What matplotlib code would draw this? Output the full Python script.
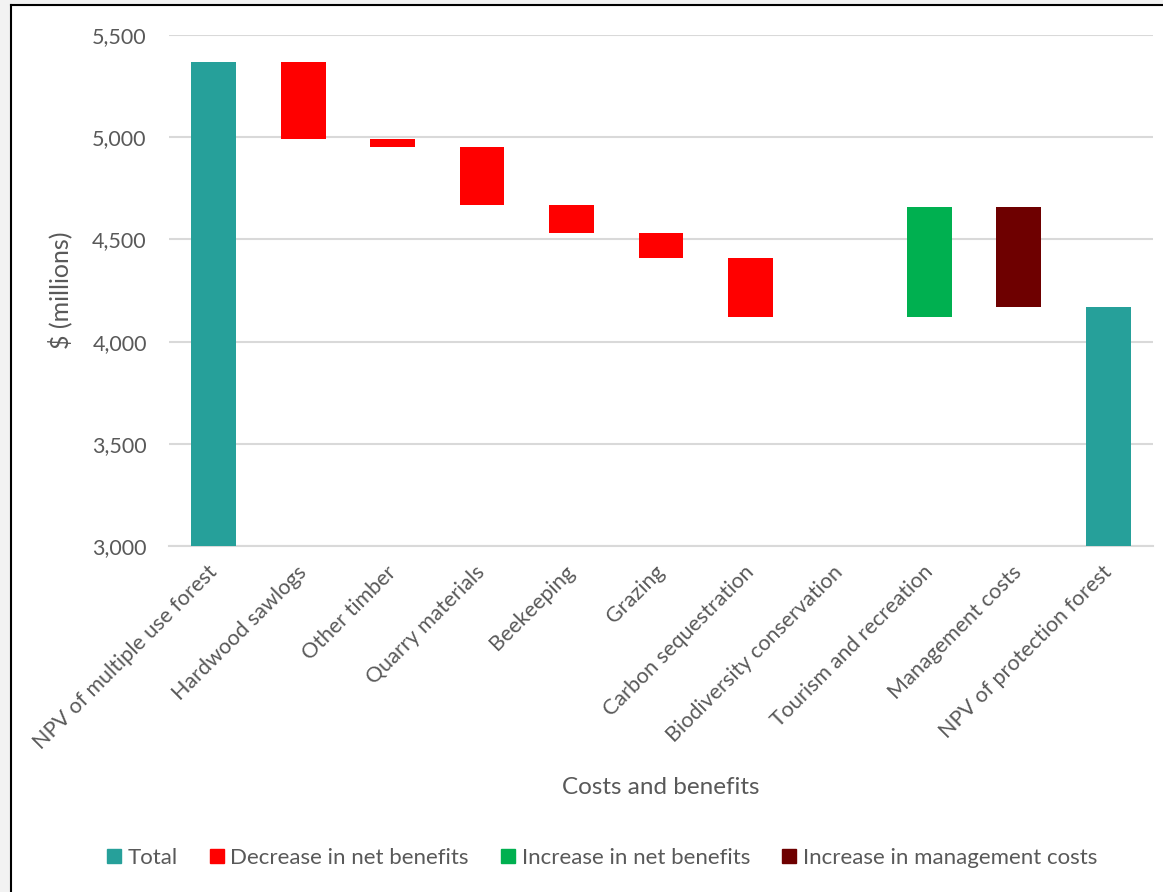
import matplotlib
matplotlib.use("Agg")
import matplotlib.pyplot as plt
import matplotlib.patches as mpatches
import matplotlib.transforms as mtransforms
from matplotlib.lines import Line2D
from matplotlib.ticker import FuncFormatter
import numpy as np

categories = ["NPV of multiple use forest", "Hardwood sawlogs", "Other timber",
              "Quarry materials", "Beekeeping", "Grazing", "Carbon sequestration",
              "Biodiversity conservation", "Tourism and recreation",
              "Management costs", "NPV of protection forest"]
start_total = 5368
changes = [-376, -39, -286, -137, -119, -292, 0, 540, -489]
kinds = ["Total", "Decrease", "Decrease", "Decrease", "Decrease", "Decrease",
         "Decrease", "Decrease", "Increase", "Mgmt", "Total"]
legend_labels = ["Total", "Decrease in net benefits", "Increase in net benefits",
                 "Increase in management costs"]
yticks = [3000, 3500, 4000, 4500, 5000, 5500]

colors = {"Total": "#26A09A", "Decrease": "#FF0000", "Increase": "#00B050", "Mgmt": "#6E0000"}
TXT = "#595959"
FONT = "Lato"

plt.rcParams["font.family"] = [FONT, "DejaVu Sans"]

W, H = 1163, 892
fig = plt.figure(figsize=(W / 100, H / 100), dpi=100)
fig.patch.set_facecolor("white")

ax = fig.add_axes([169 / W, 1 - 546 / H, (1153 - 169) / W, (546 - 35) / H])

# waterfall geometry from data
levels = np.concatenate([[start_total], start_total + np.cumsum(changes)])
bottoms, heights, cols = [], [], []
x = np.arange(len(categories))
for i, k in enumerate(kinds):
    if k == "Total":
        val = start_total if i == 0 else levels[-1]
        bottoms.append(0)
        heights.append(val)
    else:
        prev = levels[i - 1]
        d = changes[i - 1]
        bottoms.append(min(prev, prev + d))
        heights.append(abs(d))
    cols.append(colors[k])

ax.bar(x, heights, bottom=bottoms, width=0.5, color=cols, zorder=3)

ax.set_xlim(-0.5, len(categories) - 0.5)
ax.set_ylim(3000, 5500)
ax.set_yticks(yticks)
ax.yaxis.set_major_formatter(FuncFormatter(lambda v, p: f"{int(v):,}"))
ax.grid(axis="y", color="#D9D9D9", linewidth=1.5, zorder=0)
ax.set_axisbelow(True)
for s in ["top", "right", "left"]:
    ax.spines[s].set_visible(False)
ax.spines["bottom"].set_color("#D9D9D9")
ax.spines["bottom"].set_linewidth(1.5)
ax.tick_params(axis="both", length=0, colors=TXT)
ax.tick_params(axis="y", pad=16, labelsize=15.5)

ax.set_xticks(x)
ax.set_xticklabels(categories, rotation=45, ha="right", rotation_mode="anchor", fontsize=15.5)
offset = mtransforms.ScaledTranslation(-7 / 100, -11 / 100, fig.dpi_scale_trans)
for lab in ax.get_xticklabels():
    lab.set_transform(lab.get_transform() + offset)

ax.set_ylabel("$ (millions)", fontsize=18, color=TXT)
ax.yaxis.set_label_coords(-0.0986, 0.5)
fig.text(661 / W, 1 - 787 / H, "Costs and benefits", ha="center", va="center",
         fontsize=17.5, color=TXT)

handles = [mpatches.Patch(color=colors[k]) for k in ["Total", "Decrease", "Increase", "Mgmt"]]
leg = fig.legend(handles, legend_labels, loc="center", bbox_to_anchor=(602 / W, 1 - 858 / H),
                 ncol=4, frameon=False, fontsize=16, handlelength=0.63, handleheight=0.63,
                 handletextpad=0.3, columnspacing=1.45)
for t in leg.get_texts():
    t.set_color(TXT)

# chart area border (left/top), Excel style
fig.add_artist(mpatches.Rectangle((0, 0), 10 / W, 1, transform=fig.transFigure,
                                  color="#F2F2F2", zorder=0))
fig.add_artist(mpatches.Rectangle((0, 1 - 5 / H), 1, 5 / H, transform=fig.transFigure,
                                  color="#F2F2F2", zorder=0))
fig.add_artist(Line2D([11 / W, 11 / W], [0, 1 - 5 / H], transform=fig.transFigure,
                      color="black", linewidth=1.5))
fig.add_artist(Line2D([11 / W, 1], [1 - 5 / H, 1 - 5 / H], transform=fig.transFigure,
                      color="black", linewidth=1.5))

fig.savefig("out.png", dpi=100, facecolor=fig.get_facecolor())
